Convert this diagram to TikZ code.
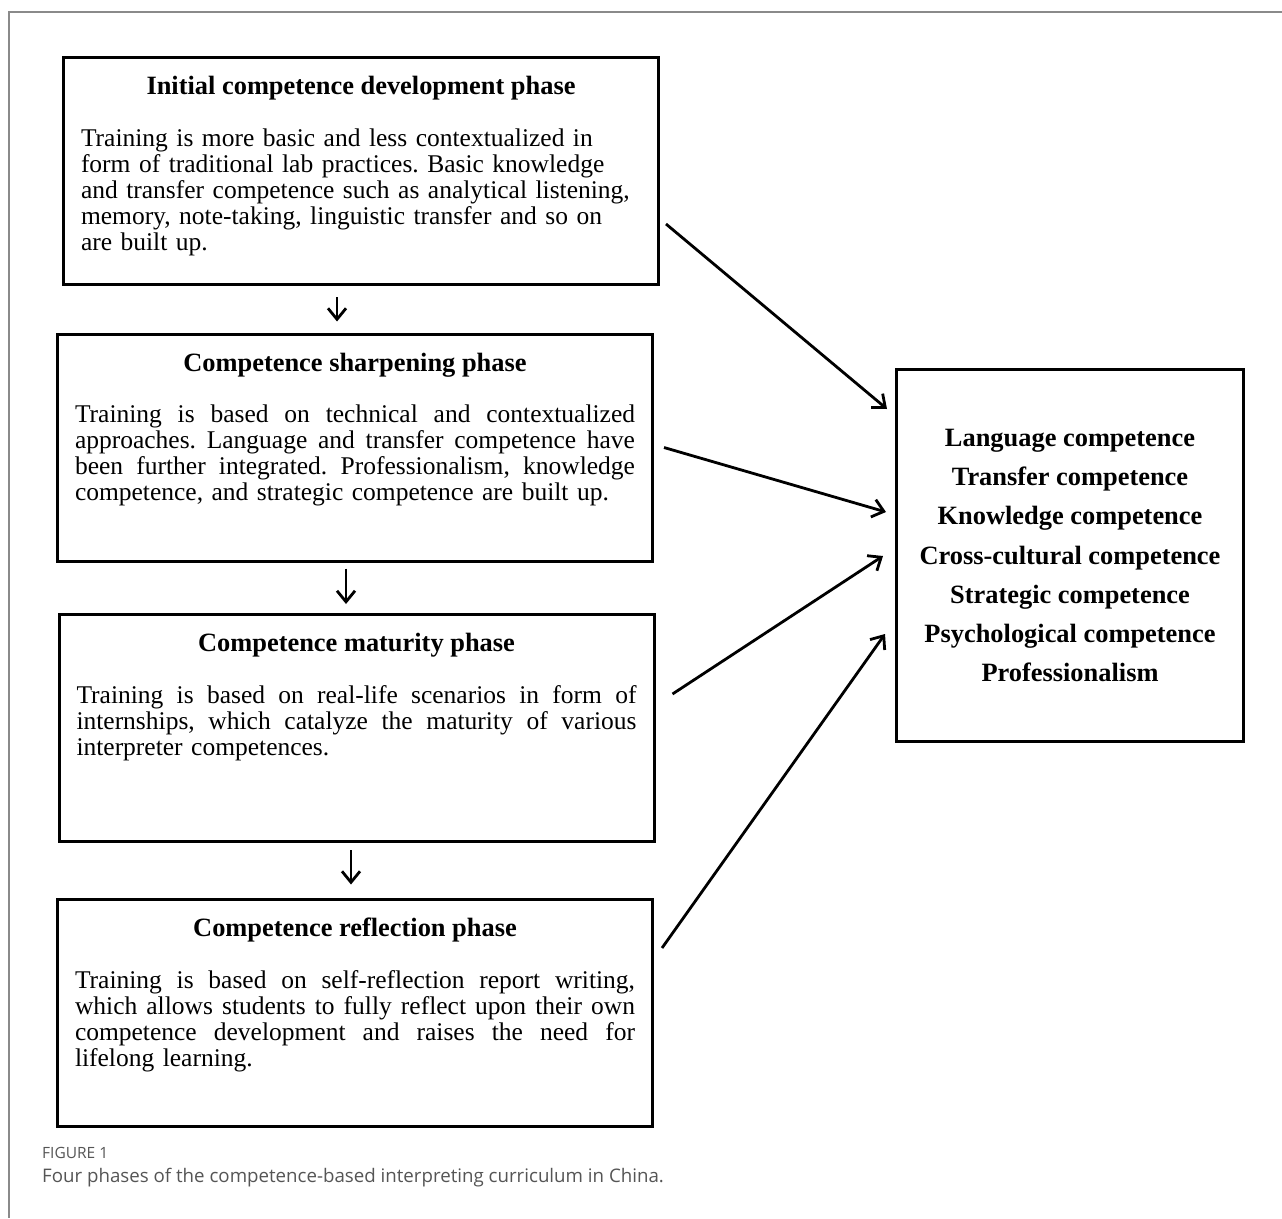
\documentclass[tikz,border=0pt]{standalone}
\usepackage{fontspec}
\setmainfont{Liberation Serif}
\newfontfamily\capfont{Open Sans}
\usetikzlibrary{positioning,arrows.meta}
\definecolor{framegray}{HTML}{8A8A8A}
\definecolor{capgray}{HTML}{555555}
\frenchspacing
% one justified line of a box text
\newcommand{\jl}[1]{\hbox to 560pt{\spaceskip=\fontdimen2\font plus 1fil\relax #1}\par}
\tikzset{
  >={Straight Barb[length=11pt,width=18pt]},
  phasebox/.style={draw, line width=3pt, minimum width=595pt, minimum height=227pt, inner sep=0pt},
}

\begin{document}
\begin{tikzpicture}[
  x=1pt,y=-1pt,
  phasetitle/.style={font=\fontsize{26.4}{26}\selectfont\bfseries, inner sep=0pt},
  phasetext/.style={font=\fontsize{25.5}{26}\selectfont, text width=560pt, inner sep=0pt},
  compbox/.style={draw, line width=3pt, minimum width=347pt, minimum height=372pt,
    align=center, font=\fontsize{26.4}{39.3}\selectfont\bfseries},
  link/.style={->, line width=2.8pt},
]
\useasboundingbox (0,0) rectangle (1282,1218);

% frame of the figure
\draw[framegray, line width=1.5pt] (1282,12) -- (9,12) -- (9,1218);

% the four phases
\node[phasebox] (init) at (361,171) {};
\node[phasetitle, below=20pt of init.north] (initT) {Initial competence development phase};
\node[phasetext, align=left, below=28pt of initT] (initB) {Training is more basic and less contextualized in\\
form of traditional lab practices. Basic knowledge\\
and transfer competence such as analytical listening,\\
memory, note-taking, linguistic transfer and so on\\
are built up.};

\node[phasebox] (sharp) at (355,447.5) {};
\node[phasetitle, below=20pt of sharp.north] (sharpT) {Competence sharpening phase};
\node[phasetext, below=28pt of sharpT] (sharpB) {\jl{Training is based on technical and contextualized}
\jl{approaches. Language and transfer competence have}
\jl{been further integrated. Professionalism, knowledge}
competence, and strategic competence are built up.};

\node[phasebox] (mature) at (356.5,728) {};
\node[phasetitle, below=20pt of mature.north] (matureT) {Competence maturity phase};
\node[phasetext, below=28pt of matureT] (matureB) {\jl{Training is based on real-life scenarios in form of}
\jl{internships, which catalyze the maturity of various}
interpreter competences.};

\node[phasebox] (reflect) at (355,1012.5) {};
\node[phasetitle, below=20pt of reflect.north] (reflectT) {Competence reflection phase};
\node[phasetext, below=28pt of reflectT] (reflectB) {\jl{Training is based on self-reflection report writing,}
\jl{which allows students to fully reflect upon their own}
\jl{competence development and raises the need for}
lifelong learning.};

% the competences
\node[compbox] (comp) at (1070,555.5) {Language competence\\Transfer competence\\Knowledge competence\\
Cross-cultural competence\\Strategic competence\\Psychological competence\\Professionalism};

% arrows
\draw[link] ([shift={(-24,11)}]init.south) -- ([shift={(-18,-11)}]sharp.north);
\draw[link] ([shift={(-9,6)}]sharp.south) -- ([shift={(-10.5,-9)}]mature.north);
\draw[link] ([shift={(-5.5,7)}]mature.south) -- ([shift={(-4,-13)}]reflect.north);

\draw[link] ([shift={(6,53)}]init.east) -- ([shift={(-8,-146.5)}]comp.west);
\draw[link] ([shift={(10,0)}]sharp.east) -- ([shift={(-9,-43.5)}]comp.west);
\draw[link] ([shift={(17,-34)}]mature.east) -- ([shift={(-12,0.5)}]comp.west);
\draw[link] ([shift={(8,-64.5)}]reflect.east) -- ([shift={(-10,78.5)}]comp.west);

% caption
\node[anchor=west, inner sep=0pt, text=capgray, font=\capfont\fontsize{15.5}{18}\selectfont] (figlabel) at (42,1153) {FIGURE 1};
\node[anchor=west, inner sep=0pt, text=capgray, font=\capfont\fontsize{18.7}{22}\selectfont] (figcap) at (42,1178) {Four phases of the competence-based interpreting curriculum in China.};
\end{tikzpicture}
\end{document}
